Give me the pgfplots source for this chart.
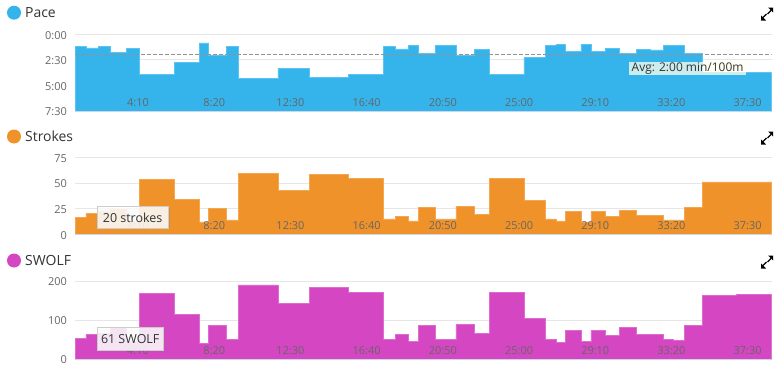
\documentclass[border=0pt]{standalone}
\usepackage{fontspec}
\setmainfont{Open Sans}
\usepackage{pgfplots}
\usepackage{pgfplotstable}
\pgfplotsset{compat=1.18}
\usetikzlibrary{shadows}
\definecolor{paceblue}{HTML}{35B4EC}
\definecolor{paceedge}{HTML}{5CC4F2}
\definecolor{strokeorange}{HTML}{F0922A}
\definecolor{strokeedge}{HTML}{F4A650}
\definecolor{swolfmag}{HTML}{D546C2}
\definecolor{swolfedge}{HTML}{DE6CCF}
\definecolor{gridc}{HTML}{E6E6E6}
\definecolor{basec}{HTML}{CCD6EB}
\definecolor{tickc}{HTML}{666666}
\definecolor{titlec}{HTML}{333333}
\definecolor{ivory}{HTML}{FFFFF0}

\pgfplotstableread{
t pace strokes swolf
43 73 16 53
79 80 20 62
120 73 22 65
158 108 24 82
211 82 13 45
254 233 53 168
370 163 34 115
451 51 12 40
482 122 25 87
541 73 14 50
579 260 59 190
709 198 43 143
812 252 58 184
939 233 54 170
1056 69 15 49
1094 86 17 62
1137 63 13 45
1170 112 26 85
1224 65 15 49
1261 65 15 49
1293 122 27 89
1353 88 19 65
1403 233 54 170
1516 137 33 103
1588 67 15 49
1621 57 13 43
1653 102 22 74
1703 57 12 44
1736 98 22 73
1784 85 17 60
1828 112 23 82
1884 88 18 62
1930 92 18 64
1973 67 14 50
2006 67 14 48
2042 112 26 85
2101 225 51 164
2214 225 51 166
2329 225 51 166
}\laps

\pgfplotsset{swim/.style={
  scale only axis, width=696.7bp,
  xmin=43, xmax=2329,
  xtick={250,500,...,2250},
  xticklabels={4:10,8:20,12:30,16:40,20:50,25:00,29:10,33:20,37:30},
  axis line style={draw=none},
  major tick length=0pt,
  axis on top,
  tick label style={font=\fontsize{11}{13}\selectfont, text=tickc},
  xticklabel style={anchor=south, yshift=4bp, inner sep=0pt},
  yticklabel style={anchor=east, inner sep=0pt, xshift=-8bp, yshift=-1bp},
  /pgf/number format/assume math mode=true,
}}

\tikzset{tip/.style={fill=white, fill opacity=0.85, text opacity=1, text=titlec,
  draw=gray!40, line width=0.6bp,
  drop shadow={opacity=0.25, shadow xshift=1.2bp, shadow yshift=-1.2bp},
  inner xsep=4bp, inner ysep=0pt, font=\fontsize{12.5}{15}\selectfont}}

\newcommand{\expandicon}[2]{%
  \fill[black] (#1bp+6bp,-#2bp+6.5bp) -- (#1bp+1bp,-#2bp+6.5bp) -- (#1bp+6bp,-#2bp+1.5bp) -- cycle;
  \draw[black, line width=1.3bp] (#1bp+0.5bp,-#2bp+0bp) -- (#1bp+4bp,-#2bp+3.5bp);
  \fill[black] (#1bp-6bp,-#2bp-6.5bp) -- (#1bp-1bp,-#2bp-6.5bp) -- (#1bp-6bp,-#2bp-1.5bp) -- cycle;
  \draw[black, line width=1.3bp] (#1bp-0.5bp,-#2bp-0bp) -- (#1bp-4bp,-#2bp-3.5bp);
}

\begin{document}
\begin{tikzpicture}
\path[use as bounding box, fill=white] (0,0) rectangle (784bp,-370bp);

% ---------- Pace ----------
\begin{axis}[swim, anchor=south west, at={(75bp,-111bp)}, height=76.7bp,
  ymin=-450, ymax=0, ytick={-450,-300,-150,0},
  yticklabels={7:30,5:00,2:30,0:00}]
\draw[gridc, line width=0.8bp] (axis cs:43,-300) -- (axis cs:2329,-300);
\draw[gridc, line width=0.8bp] (axis cs:43,-150) -- (axis cs:2329,-150);
\draw[gridc, line width=0.8bp] (axis cs:43,0) -- (axis cs:2329,0);
\addplot[const plot, fill=paceblue, draw=paceedge, line width=0.8bp]
  table[x=t, y expr=-\thisrow{pace}]{\laps}
  -- (axis cs:2329,-450) -- (axis cs:43,-450) -- cycle;
\addplot[draw=gray!85, line width=0.8bp, dash pattern=on 3.5bp off 2.5bp]
  coordinates {(43,-120) (2329,-120)};
\draw[basec, line width=1bp] (axis cs:43,-450) -- (axis cs:2329,-450);
\coordinate (tipP) at (axis cs:2053,-200);
\end{axis}
\node[fill=ivory, fill opacity=0.75, text opacity=1, text=titlec,
  inner xsep=2.5bp, inner ysep=0pt, minimum height=13bp,
  font=\fontsize{12}{14}\selectfont] at (tipP) {Avg: 2:00 min/100m};

% ---------- Strokes ----------
\begin{axis}[swim, anchor=south west, at={(75bp,-234.3bp)}, height=77bp,
  ymin=0, ymax=75, ytick={0,25,50,75}]
\draw[gridc, line width=0.8bp] (axis cs:43,25) -- (axis cs:2329,25);
\draw[gridc, line width=0.8bp] (axis cs:43,50) -- (axis cs:2329,50);
\draw[gridc, line width=0.8bp] (axis cs:43,75) -- (axis cs:2329,75);
\addplot[const plot, fill=strokeorange, draw=strokeedge, line width=0.8bp]
  table[x=t, y=strokes]{\laps} \closedcycle;
\draw[basec, line width=1bp] (axis cs:43,0) -- (axis cs:2329,0);
\coordinate (tipS) at (axis cs:232,16.4);
\end{axis}
\node[tip, minimum height=21.6bp, minimum width=71.6bp] at (tipS) {20 strokes};

% ---------- SWOLF ----------
\begin{axis}[swim, anchor=south west, at={(75bp,-359bp)}, height=78bp,
  ymin=0, ymax=200, ytick={0,100,200}]
\draw[gridc, line width=0.8bp] (axis cs:43,100) -- (axis cs:2329,100);
\draw[gridc, line width=0.8bp] (axis cs:43,200) -- (axis cs:2329,200);
\addplot[const plot, fill=swolfmag, draw=swolfedge, line width=0.8bp]
  table[x=t, y=swolf]{\laps} \closedcycle;
\draw[basec, line width=1bp] (axis cs:43,0) -- (axis cs:2329,0);
\coordinate (tipW) at (axis cs:224,51.8);
\end{axis}
\node[tip, minimum height=22.3bp, minimum width=66.6bp] at (tipW) {61 SWOLF};

% ---------- titles ----------
\fill[paceblue] (14bp,-12.7bp) circle (7bp);
\node[anchor=west, inner sep=0pt, text=titlec, font=\fontsize{14}{16}\selectfont] at (25bp,-12.7bp) {Pace};
\fill[strokeorange] (14bp,-136.5bp) circle (7bp);
\node[anchor=west, inner sep=0pt, text=titlec, font=\fontsize{14}{16}\selectfont] at (25bp,-136.5bp) {Strokes};
\fill[swolfmag] (14bp,-260.5bp) circle (7bp);
\node[anchor=west, inner sep=0pt, text=titlec, font=\fontsize{14}{16}\selectfont] at (25bp,-260.5bp) {SWOLF};

\expandicon{767}{14}
\expandicon{767}{138}
\expandicon{767}{262}
\end{tikzpicture}
\end{document}
